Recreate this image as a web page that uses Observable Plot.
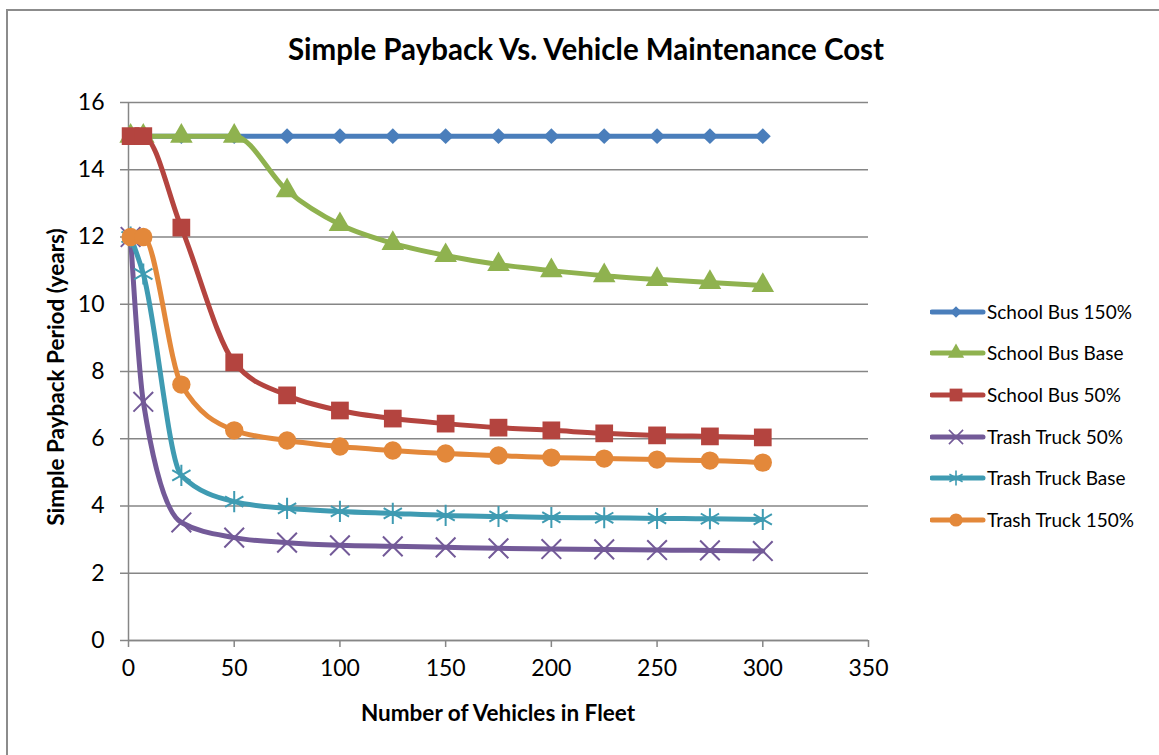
<!DOCTYPE html>
<html>
<head>
<meta charset="utf-8">
<script src="https://cdn.jsdelivr.net/npm/d3@7"></script>
<script src="https://cdn.jsdelivr.net/npm/@observablehq/plot@0.6"></script>
<style>
  html, body { margin: 0; padding: 0; background: #fff; }
  #chart { position: relative; width: 1159px; height: 755px; overflow: hidden; font-family: Lato, "Open Sans", sans-serif; }
  #frame { position: absolute; left: 6px; top: 9px; width: 1200px; height: 800px; border-top: 2px solid #8c8c8c; border-left: 2px solid #8c8c8c; box-sizing: border-box; }
  #title { position: absolute; left: 186px; width: 800px; top: 31px; text-align: center; font-weight: bold; font-size: 29.5px; line-height: 36px; color: #000; }
  #plot { position: absolute; left: 0; top: 0; }
  #xlabel { position: absolute; left: 198px; width: 600px; top: 700px; text-align: center; font-weight: bold; font-size: 22.5px; line-height: 26px; color: #000; }
  #ylabel { position: absolute; left: 56px; top: 377px; width: 400px; margin-left: -200px; margin-top: -13px; text-align: center; font-weight: bold; font-size: 22.5px; line-height: 26px; color: #000; transform: rotate(-90deg); }
  #legend { position: absolute; left: 930px; top: 290px; }
  .leg { position: absolute; left: 0; height: 30px; white-space: nowrap; font-size: 19px; color: #000; }
  .leg svg { position: absolute; left: 0; top: 0; }
  .leg span { position: absolute; left: 57px; top: 3px; }
</style>
</head>
<body>
<div id="chart">
  <div id="frame"></div>
  <div id="title">Simple Payback Vs. Vehicle Maintenance Cost</div>
  <div id="plot"></div>
  <div id="xlabel">Number of Vehicles in Fleet</div>
  <div id="ylabel">Simple Payback Period (years)</div>
  <div id="legend"></div>
</div>
<script>
// ---- Data ----
const fleet = [1, 7, 25, 50, 75, 100, 125, 150, 175, 200, 225, 250, 275, 300];
const seriesNames = ["School Bus 150%", "School Bus Base", "School Bus 50%", "Trash Truck 50%", "Trash Truck Base", "Trash Truck 150%"];
const schoolBus150 = [15, 15, 15, 15, 15, 15, 15, 15, 15, 15, 15, 15, 15, 15];
const schoolBusBase = [15, 15, 15, 15, 13.38, 12.37, 11.81, 11.45, 11.18, 11.0, 10.85, 10.74, 10.65, 10.56];
const schoolBus50 = [15, 15, 12.28, 8.27, 7.29, 6.84, 6.60, 6.45, 6.33, 6.25, 6.16, 6.10, 6.07, 6.04];
const trashTruck50 = [12, 7.1, 3.51, 3.06, 2.91, 2.83, 2.80, 2.77, 2.74, 2.72, 2.71, 2.69, 2.68, 2.66];
const trashTruckBase = [12, 10.9, 4.91, 4.13, 3.93, 3.84, 3.78, 3.72, 3.69, 3.66, 3.65, 3.63, 3.62, 3.60];
const trashTruck150 = [12, 12, 7.61, 6.25, 5.95, 5.77, 5.65, 5.56, 5.50, 5.44, 5.41, 5.38, 5.35, 5.29];
const yTicks = [0, 2, 4, 6, 8, 10, 12, 14, 16];
const xTicks = [0, 50, 100, 150, 200, 250, 300, 350];

// ---- Styles ----
const colors = ["#4A7EBB", "#8FB24F", "#B4443F", "#735A98", "#3F9BB2", "#E3883A"];
const symbols = ["diamond2", "triangle", "square", "times", "asterisk", "circle"];
const radii = [7.2, 8.4, 10, 9, 10, 9.2];
const strokeSymbols = new Set(["times", "asterisk"]);
const valueArrays = [schoolBus150, schoolBusBase, schoolBus50, trashTruck50, trashTruckBase, trashTruck150];

const rows = seriesNames.flatMap((name, i) => fleet.map((x, j) => ({series: name, x, y: valueArrays[i][j]})));

const marks = [
  Plot.gridY(yTicks, {stroke: "#868686", strokeOpacity: 1, strokeWidth: 1.5}),
  Plot.axisY({ticks: yTicks, tickSize: 8, tickPadding: 16, fontSize: 23, stroke: "#868686", strokeWidth: 1.5, label: null}),
  Plot.axisX({ticks: xTicks, tickSize: 7, tickPadding: 12, fontSize: 23, stroke: "#868686", strokeWidth: 1.5, label: null}),
  Plot.ruleX([0], {stroke: "#868686", strokeWidth: 1.5}),
  Plot.ruleY([0], {stroke: "#868686", strokeWidth: 1.5}),
];
seriesNames.forEach((name, i) => {
  const d = rows.filter(r => r.series === name);
  marks.push(Plot.line(d, {x: "x", y: "y", stroke: colors[i], strokeWidth: 5, curve: "monotone-x"}));
  if (strokeSymbols.has(symbols[i])) {
    marks.push(Plot.dot(d, {x: "x", y: "y", symbol: () => symbols[i], r: radii[i], stroke: colors[i], strokeWidth: 2, fill: "none"}));
  } else {
    marks.push(Plot.dot(d, {x: "x", y: "y", symbol: () => symbols[i], r: radii[i], fill: colors[i], stroke: "none"}));
  }
});

const chart = Plot.plot({
  width: 1159,
  height: 755,
  marginLeft: 128,
  marginRight: 291,
  marginTop: 102,
  marginBottom: 115,
  style: {fontFamily: "Lato, 'Open Sans', sans-serif", color: "#000", background: "transparent", overflow: "visible"},
  x: {domain: [0, 350], label: null},
  y: {domain: [0, 16], label: null},
  symbol: {type: "identity"},
  marks
});
document.getElementById("plot").appendChild(chart);

// ---- Legend ----
const legend = document.getElementById("legend");
const legendRowY = [7, 48, 90, 132, 173, 215];
seriesNames.forEach((name, i) => {
  const row = document.createElement("div");
  row.className = "leg";
  row.style.top = legendRowY[i] + "px";
  const svg = d3.create("svg").attr("width", 56).attr("height", 30);
  svg.append("line").attr("x1", 2).attr("x2", 53).attr("y1", 15).attr("y2", 15)
    .attr("stroke", colors[i]).attr("stroke-width", 5).attr("stroke-linecap", "round");
  const symMap = {diamond2: d3.symbolDiamond2, triangle: d3.symbolTriangle, square: d3.symbolSquare, times: d3.symbolTimes, asterisk: d3.symbolAsterisk, circle: d3.symbolCircle};
  const r = radii[i] * 0.72;
  const p = svg.append("path").attr("transform", "translate(26,15)")
    .attr("d", d3.symbol(symMap[symbols[i]], Math.PI * r * r)());
  if (strokeSymbols.has(symbols[i])) p.attr("fill", "none").attr("stroke", colors[i]).attr("stroke-width", 1.6);
  else p.attr("fill", colors[i]);
  row.appendChild(svg.node());
  const span = document.createElement("span");
  span.textContent = name;
  row.appendChild(span);
  legend.appendChild(row);
});
</script>
</body>
</html>
